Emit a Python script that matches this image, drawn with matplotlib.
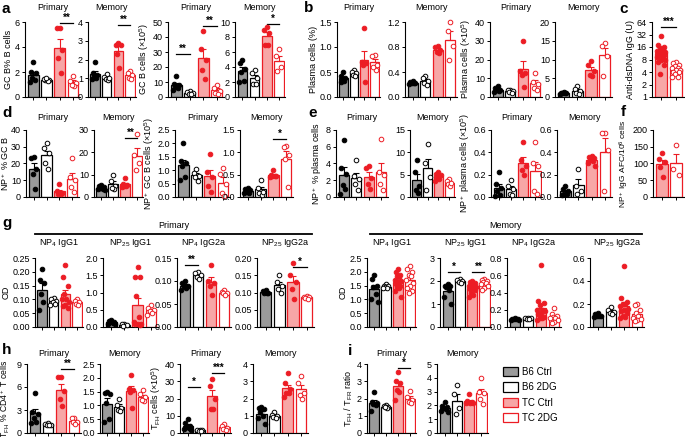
import numpy as np
import matplotlib
matplotlib.use('Agg')
import matplotlib.pyplot as plt
from matplotlib.patches import Patch
from matplotlib.lines import Line2D

plt.rcParams['font.family'] = ['Liberation Sans', 'DejaVu Sans']
plt.rcParams['mathtext.fontset'] = 'custom'
plt.rcParams['mathtext.rm'] = 'Liberation Sans'
plt.rcParams['mathtext.it'] = 'Liberation Sans:italic'
plt.rcParams['mathtext.bf'] = 'Liberation Sans:bold'

# groups and colours
GROUPS = ['B6 Ctrl', 'B6 2DG', 'TC Ctrl', 'TC 2DG']
TC_ONLY = ['TC Ctrl', 'TC 2DG']
GRAY = '#9a9a9a'
RED = '#ec1c24'
PINK = '#f7a6a6'
STYLE = {'B6 Ctrl': (GRAY, 'black', 'black'),
         'B6 2DG': ('white', 'black', 'white'),
         'TC Ctrl': (PINK, RED, RED),
         'TC 2DG': ('white', RED, 'white')}

# ---- data: one list of points per group ----
a1_pts = [[2.8, 2.0, 1.9, 1.5, 1.2, 1.4], [1.4, 1.35, 1.3, 1.45, 1.5],
          [5.5, 5.5, 3.8, 3.1, 1.9], [1.7, 1.3, 1.1, 0.9, 1.0]]
a2_pts = [[1.85, 1.3, 1.2, 1.1, 1.0, 0.95], [1.25, 1.05, 0.95, 0.9, 1.0],
          [2.9, 2.8, 2.75, 2.3, 1.55], [1.4, 1.3, 1.15, 1.0, 0.95]]
a3_pts = [[14, 9, 8, 7, 6, 5], [4, 3.5, 3, 2, 2],
          [44, 32, 25, 18, 12], [8, 6, 4, 3, 2]]
a4_pts = [[4.9, 4.6, 3.8, 3.3, 2.2, 2.0], [3.6, 3.2, 2.6, 1.8, 1.8],
          [9.3, 9.0, 8.6, 7.0, 6.9], [6.4, 5.5, 4.0, 3.5]]
b1_pts = [[0.5, 0.42, 0.35, 0.3, 0.32, 0.38], [0.55, 0.5, 0.48, 0.45, 0.42],
          [1.38, 0.7, 0.68, 0.65, 0.3], [0.85, 0.82, 0.65, 0.55, 0.6]]
b2_pts = [[0.25, 0.24, 0.23, 0.22, 0.21, 0.22], [0.33, 0.3, 0.25, 0.22, 0.2],
          [0.82, 0.8, 0.76, 0.72, 0.7], [1.2, 1.06, 0.82, 0.6]]
b3_pts = [[6, 5, 4, 3.5, 3, 2.5], [4, 3.5, 3, 2.5, 2],
          [30, 14, 13, 12, 5.5], [13, 8, 7, 5, 4]]
b4_pts = [[1.3, 1.2, 1.1, 1.0, 0.9, 1.0], [3, 2.2, 1.5, 1.0, 0.8],
          [9.5, 8.5, 7, 6, 5.5], [14.5, 13.5, 11, 5.5]]
c_pts = [[30, 18, 16, 15, 14, 13, 12, 12, 11, 10, 10, 9, 9, 8, 8, 7, 6, 3.5],
         [7, 6.5, 6, 5.5, 5, 5, 4.5, 4.5, 4, 4, 3.5, 3, 3]]
d1_pts = [[24, 23, 17, 14, 5], [32, 29, 26, 20, 17],
          [7.5, 3.5, 2.5, 2, 1.5], [23.5, 12, 10, 6, 3]]
d2_pts = [[5.5, 5, 4.5, 4, 3.5, 3.5, 3], [10, 7, 5, 3.5, 4],
          [8.5, 6, 5.5, 5, 5, 4.5], [28, 19, 15, 12]]
d3_pts = [[2.0, 1.35, 1.25, 1.15, 0.75, 0.65], [1.05, 0.9, 0.8, 0.75, 0.6],
          [1.6, 0.95, 0.75, 0.4, 0.2], [1.1, 0.85, 0.5, 0.15, 0.05]]
d4_pts = [[0.2, 0.18, 0.15, 0.12, 0.1, 0.08], [0.38, 0.2, 0.1, 0.05, 0.12],
          [0.6, 0.5, 0.48, 0.47, 0.46, 0.45], [1.15, 1.12, 0.95, 0.85, 0.22]]
e1_pts = [[6.8, 3.5, 2.8, 1.4, 1.0, 0.3], [4.4, 2.5, 2.2, 1.5, 0.8],
          [3.7, 3.5, 2.3, 1.5, 1.0], [6.9, 3.0, 2.6, 1.5, 0.8]]
e2_pts = [[8.3, 5.5, 2.5, 1.5, 1.0], [11.8, 7.7, 4.5, 1.6],
          [5.5, 5.2, 5, 4.5, 4, 3.5], [4, 3.5, 3, 2.5, 3.2]]
e3_pts = [[0.22, 0.12, 0.08, 0.05, 0.02, 0.01], [0.15, 0.1, 0.07, 0.03, 0.02],
          [0.49, 0.33, 0.28, 0.24, 0.2], [0.49, 0.3, 0.28, 0.05, 0.03]]
e4_pts = [[0.1, 0.07, 0.05, 0.03, 0.02, 0.03], [0.25, 0.1, 0.05, 0.03],
          [0.37, 0.36, 0.35, 0.33, 0.32, 0.3, 0.28], [0.57, 0.57, 0.42, 0.05]]
f_pts = [[130, 112, 105, 90, 60], [155, 85, 65]]
g1_pts = [[0.21, 0.17, 0.16, 0.12, 0.09, 0.06], [0.105, 0.1, 0.095, 0.09, 0.085, 0.08],
          [0.225, 0.18, 0.15, 0.12, 0.1, 0.09, 0.08, 0.075, 0.07, 0.1],
          [0.1, 0.095, 0.09, 0.085, 0.08]]
g2_pts = [[0.2, 0.15, 0.12, 0.1, 0.08, 0.18, 0.14], [0.1, 0.08, 0.05, 0.04],
          [1.75, 1.45, 1.45, 0.9, 0.3, 0.15, 0.1, 0.1, 0.08, 0.05],
          [0.65, 0.55, 0.5, 0.45, 0.4, 0.35]]
g3_pts = [[0.1, 0.095, 0.09, 0.09, 0.085, 0.08], [0.12, 0.118, 0.112, 0.108, 0.105],
          [0.135, 0.1, 0.095, 0.09, 0.07], [0.08, 0.077, 0.075, 0.073, 0.07]]
g4_pts = [[0.108, 0.104, 0.1, 0.1, 0.098], [0.15, 0.13, 0.12, 0.11, 0.1],
          [0.185, 0.15, 0.13, 0.11, 0.08], [0.09, 0.088, 0.086, 0.084, 0.082]]
gm1_pts = [[1.9, 1.75, 1.5, 1.45, 1.2, 1.0, 0.9], [1.55, 1.5, 1.48, 1.45, 1.42, 1.4],
           [2.1, 2.0, 1.9, 1.85, 1.8, 1.7, 1.65, 1.6, 1.55, 1.5, 1.45, 1.4, 1.3, 1.1],
           [2.2, 2.1, 2.0, 1.9, 1.85, 1.7, 1.6, 1.5, 1.4, 1.3, 1.25]]
gm2_pts = [[1.85, 1.8, 1.8, 1.75, 1.6, 1.3, 1.0], [2.1, 2.05, 2.0, 1.95, 1.9],
           [2.0, 1.95, 1.9, 1.85, 1.8, 1.8, 1.75, 1.7, 1.65, 1.6, 1.5, 1.4, 1.3],
           [2.1, 2.05, 2.0, 1.95, 1.9, 1.85, 1.8, 1.7, 1.6]]
gm3_pts = [[0.1, 0.095, 0.09, 0.09, 0.085, 0.08, 0.09], [0.11, 0.105, 0.1, 0.095, 0.09],
           [0.72, 0.3, 0.28, 0.25, 0.2, 0.18, 0.15, 0.12, 0.1, 0.08, 0.1, 0.2, 0.15],
           [0.22, 0.15, 0.13, 0.12, 0.1, 0.08, 0.06, 0.05, 0.1]]
gm4_pts = [[0.12, 0.11, 0.1, 0.1, 0.095, 0.09], [0.17, 0.15, 0.13, 0.12, 0.11],
           [0.53, 0.25, 0.22, 0.2, 0.18, 0.16, 0.14, 0.12, 0.1, 0.09, 0.08, 0.2, 0.15],
           [0.2, 0.19, 0.15, 0.12, 0.1, 0.08, 0.06, 0.05, 0.07]]
h1_pts = [[5.2, 2.8, 2.5, 2.0, 1.5, 1.3], [1.3, 1.2, 1.1, 1.0, 1.0],
          [7.3, 7.3, 5.5, 4.5, 3.5], [2.0, 1.9, 1.5, 1.4, 1.2]]
h2_pts = [[1.5, 1.45, 1.4, 1.1, 0.5, 0.4], [1.25, 1.0, 0.9, 0.85, 0.8],
          [2.1, 1.6, 1.55, 1.5, 0.9], [1.55, 1.4, 1.3, 1.15, 1.2]]
h3_pts = [[8, 6, 4, 3.5, 3, 2.5, 2], [2, 1.8, 1.5, 1.2, 1],
          [31.5, 27, 20, 14, 14], [5, 4, 3, 2.5, 2]]
h4_pts = [[1.5, 1.45, 1.4, 1.2, 0.85, 0.5, 1.0], [1.2, 1.05, 1.0, 0.9, 0.85],
          [3.45, 2.9, 2.55, 2.3, 2.1, 2.3], [3.3, 2.9, 2.3, 2.2, 2.0]]
i1_pts = [[2.35, 1.8, 1.75, 1.7, 1.6, 1.25], [1.6, 1.55, 1.5, 1.45, 1.5],
          [3.55, 3.0, 2.9, 2.5, 2.4, 1.9], [2.45, 2.1, 1.9, 1.8, 1.75]]
i2_pts = [[2.25, 1.95, 1.9, 1.8, 1.75, 1.6, 1.5], [3.45, 2.8, 1.8, 1.35],
          [2.85, 2.3, 2.25, 2.2, 2.25, 2.2, 2.15], [3.95, 3.0, 2.9, 2.5, 2.1]]

W, H = 685, 437
fig = plt.figure(figsize=(W / 100, H / 100), dpi=100)
FS = 6.5
JITTER = [0, -0.2, 0.2, -0.1, 0.1, -0.28, 0.28]


def panel(box, pts, ylim, yticks, title=None, title_y=None, ylabel=None,
          sig=(), groups=GROUPS, log=False, ticklabels=None, ylabel_fs=FS,
          ylabel_x=None):
    l, t, r, b = box
    ax = fig.add_axes([l / W, 1 - b / H, (r - l) / W, (b - t) / H])
    base = ylim[0] if log else 0
    for i, (g, vals) in enumerate(zip(groups, pts)):
        fc, ec, mfc = STYLE[g]
        v = np.array(vals, float)
        m = v.mean()
        se = v.std(ddof=1) / np.sqrt(len(v))
        ax.bar(i, m - base, bottom=base, width=0.82, color=fc, edgecolor=ec,
               lw=0.9, zorder=1)
        ax.errorbar(i, m, yerr=[[0], [se]], color=ec, lw=0.8, capsize=2,
                    capthick=0.8, zorder=2)
        offs = np.zeros(len(v))
        for rank, k in enumerate(np.argsort(-v)):
            offs[k] = JITTER[rank % len(JITTER)]
        ax.scatter(i + offs, v, s=11, facecolor=mfc, edgecolor=ec, lw=0.7,
                   zorder=3, clip_on=False)
    if log:
        ax.set_yscale('log', base=2)
    ax.set_xlim(-0.62, len(groups) - 0.47)
    ax.set_ylim(ylim)
    ax.set_yticks(yticks)
    if ticklabels is not None:
        ax.set_yticklabels(ticklabels)
    ax.minorticks_off()
    ax.set_xticks(range(len(groups)))
    ax.set_xticklabels([])
    for s in ['top', 'right']:
        ax.spines[s].set_visible(False)
    for s in ['left', 'bottom']:
        ax.spines[s].set_linewidth(0.8)
    ax.tick_params(labelsize=FS, length=2.5, width=0.7, pad=1.2)
    if ylabel:
        ax.set_ylabel(ylabel, fontsize=ylabel_fs, labelpad=1)
        if ylabel_x is not None:
            # right edge of the rotated label, in figure pixels
            ax.yaxis.set_label_coords((ylabel_x - l) / (r - l), 0.5)
    if title:
        fig.text((l + r) / 2 / W, 1 - title_y / H, title, fontsize=FS,
                 ha='center', va='center')
    for i, j, y, txt in sig:
        ax.plot([i, j], [y, y], color='black', lw=0.9, clip_on=False)
        ax.text((i + j) / 2, y, txt, ha='center', va='bottom', fontsize=7,
                fontweight='bold', clip_on=False)
    return ax


# row a / b / c
panel((25, 22, 80, 97), a1_pts, (0, 6), [0, 2, 4, 6], 'Primary', 8,
      'GC B% B cells', sig=[(2, 3, 5.9, '**')])
panel((88, 22, 136, 97), a2_pts, (0, 4), [0, 1, 2, 3, 4], 'Memory', 8,
      sig=[(2, 3, 3.85, '**')])
panel((168, 22, 224, 97), a3_pts, (0, 50), [0, 10, 20, 30, 40, 50], 'Primary', 8,
      r'GC B cells ($\times$10$^5$)', sig=[(0, 1, 29, '**'), (2, 3, 47.5, '**')])
panel((235, 22, 285, 97), a4_pts, (0, 10), [0, 2, 4, 6, 8, 10], 'Memory', 8,
      sig=[(2, 3, 9.8, '*')])
panel((337, 22, 380, 97), b1_pts, (0, 1.5), [0, 0.5, 1.0, 1.5], 'Primary', 8,
      'Plasma cells (%)', ticklabels=['0.0', '0.5', '1.0', '1.5'])
panel((405, 22, 457, 97), b2_pts, (0, 1.2), [0, 0.4, 0.8, 1.2], 'Memory', 8,
      ticklabels=['0.0', '0.4', '0.8', '1.2'])
panel((490, 22, 542, 97), b3_pts, (0, 40), [0, 10, 20, 30, 40], 'Primary', 8,
      r'Plasma cells ($\times$10$^5$)')
panel((555, 22, 612, 97), b4_pts, (0, 20), [0, 5, 10, 15, 20], 'Memory', 8)
panel((652, 22, 684, 97), c_pts, (1, 64), [1, 2, 4, 8, 16, 32, 64],
      ylabel='Anti-dsDNA IgG (U)', groups=TC_ONLY, log=True,
      ticklabels=['1', '2', '4', '8', '16', '32', '64'],
      sig=[(0, 1, 48, '***')])

# row d / e / f
panel((26, 130, 79, 197), d1_pts, (0, 40), [0, 10, 20, 30, 40], 'Primary', 117,
      r'NP$^+$ % GC B', ylabel_x=11)
panel((94, 130, 143, 197), d2_pts, (0, 30), [0, 10, 20, 30], 'Memory', 117,
      sig=[(2, 3, 26.5, '**')])
panel((175, 130, 230, 197), d3_pts, (0, 2.5), [0, 0.5, 1.0, 1.5, 2.0, 2.5],
      'Primary', 117, r'NP$^+$ GC B cells ($\times$10$^5$)',
      ticklabels=['0.0', '0.5', '1.0', '1.5', '2.0', '2.5'])
panel((240, 130, 293, 197), d4_pts, (0, 1.5), [0, 0.5, 1.0, 1.5], 'Memory', 117,
      ticklabels=['0.0', '0.5', '1.0', '1.5'], sig=[(2, 3, 1.3, '*')])
panel((336, 130, 388, 197), e1_pts, (0, 8), [0, 2, 4, 6, 8], 'Primary', 117,
      r'NP$^+$ % plasma cells')
panel((410, 130, 455, 197), e2_pts, (0, 15), [0, 5, 10, 15], 'Memory', 117)
panel((491, 130, 542, 197), e3_pts, (0, 0.6), [0, 0.2, 0.4, 0.6], 'Primary', 117,
      r'NP$^+$ plasma cells ($\times$10$^5$)',
      ticklabels=['0.0', '0.2', '0.4', '0.6'])
panel((557, 130, 612, 197), e4_pts, (0, 0.6), [0, 0.2, 0.4, 0.6], 'Memory', 117,
      ticklabels=['0.0', '0.2', '0.4', '0.6'])
panel((653, 130, 684, 197), f_pts, (0, 200), [0, 50, 100, 150, 200],
      ylabel=r'NP$^+$ IgG AFC/10$^6$ cells', groups=TC_ONLY, ylabel_fs=6)

# row g
panel((35, 258, 83, 327), g1_pts, (0, 0.25), [0, 0.05, 0.1, 0.15, 0.2, 0.25],
      r'NP$_4$ IgG1', 243, 'OD',
      ticklabels=['0.00', '0.05', '0.10', '0.15', '0.20', '0.25'])
panel((103, 258, 158, 327), g2_pts, (0, 2.0), [0, 0.5, 1.0, 1.5, 2.0],
      r'NP$_{25}$ IgG1', 243, ticklabels=['0.0', '0.5', '1.0', '1.5', '2.0'])
panel((177, 258, 231, 327), g3_pts, (0, 0.15), [0, 0.05, 0.1, 0.15],
      r'NP$_4$ IgG2a', 243, ticklabels=['0.00', '0.05', '0.10', '0.15'],
      sig=[(0, 1, 0.135, '**')])
panel((257, 258, 314, 327), g4_pts, (0, 0.2), [0, 0.05, 0.1, 0.15, 0.2],
      r'NP$_{25}$ IgG2a', 243,
      ticklabels=['0.00', '0.05', '0.10', '0.15', '0.20'],
      sig=[(2, 3, 0.175, '*')])
panel((367, 258, 416, 327), gm1_pts, (0, 2.5), [0, 0.5, 1.0, 1.5, 2.0, 2.5],
      r'NP$_4$ IgG1', 243, 'OD',
      ticklabels=['0.0', '0.5', '1.0', '1.5', '2.0', '2.5'])
panel((440, 258, 491, 327), gm2_pts, (0, 3), [0, 1, 2, 3], r'NP$_{25}$ IgG1', 243,
      sig=[(0, 1, 2.4, '*'), (2, 3, 2.4, '**')])
panel((507, 258, 561, 327), gm3_pts, (0, 0.8), [0, 0.2, 0.4, 0.6, 0.8],
      r'NP$_4$ IgG2a', 243, ticklabels=['0.0', '0.2', '0.4', '0.6', '0.8'])
panel((590, 258, 644, 327), gm4_pts, (0, 0.6), [0, 0.2, 0.4, 0.6],
      r'NP$_{25}$ IgG2a', 243, ticklabels=['0.0', '0.2', '0.4', '0.6'])

for label, cx, x0, x1 in [('Primary', 174, 35, 312), ('Memory', 505, 370, 642)]:
    fig.text(cx / W, 1 - 225 / H, label, fontsize=FS, ha='center', va='center')
    fig.add_artist(Line2D([x0 / W, x1 / W], [1 - 234 / H, 1 - 234 / H],
                          color='black', lw=1.3))

# row h / i
panel((27, 364, 81, 433), h1_pts, (0, 9), [0, 3, 6, 9], 'Primary', 353,
      r'T$_{\mathrm{FH}}$ % CD4$^+$ T cells', sig=[(2, 3, 8.4, '**')],
      ylabel_fs=6.2, ylabel_x=12)
panel((100, 364, 149, 433), h2_pts, (0, 2.5), [0, 0.5, 1.0, 1.5, 2.0, 2.5],
      'Memory', 353, ticklabels=['0.0', '0.5', '1.0', '1.5', '2.0', '2.5'])
panel((180, 364, 231, 433), h3_pts, (0, 40), [0, 10, 20, 30, 40], 'Primary', 353,
      r'T$_{\mathrm{FH}}$ cells ($\times$10$^5$)',
      sig=[(0, 1, 26.5, '*'), (2, 3, 35, '***')])
panel((253, 364, 308, 433), h4_pts, (0, 4), [0, 1, 2, 3, 4], 'Memory', 353)
panel((367, 364, 416, 433), i1_pts, (0, 4), [0, 1, 2, 3, 4], 'Primary', 353,
      r'T$_{\mathrm{FH}}$ / T$_{\mathrm{FR}}$ ratio', sig=[(2, 3, 3.75, '*')])
panel((437, 364, 488, 433), i2_pts, (0, 5), [0, 1, 2, 3, 4, 5], 'Memory', 353)

# panel letters
for letter, x, y in [('a', 2, 13), ('b', 304, 12), ('c', 619, 13), ('d', 2, 117),
                     ('e', 308, 117), ('f', 621, 116), ('g', 2, 227),
                     ('h', 2, 354), ('i', 348, 355)]:
    fig.text(x / W, 1 - y / H, letter, fontsize=11, fontweight='bold',
             ha='left', va='baseline')

handles = [Patch(facecolor=STYLE[g][0], edgecolor=STYLE[g][1], lw=0.9, label=g)
           for g in GROUPS]
fig.legend(handles=handles, loc='upper left', bbox_to_anchor=(503 / W, 1 - 367 / H),
           frameon=False, fontsize=7, handlelength=1.5, handleheight=1.1,
           labelspacing=0.55, handletextpad=0.5, borderaxespad=0, borderpad=0)

fig.savefig('out.png', dpi=100)
